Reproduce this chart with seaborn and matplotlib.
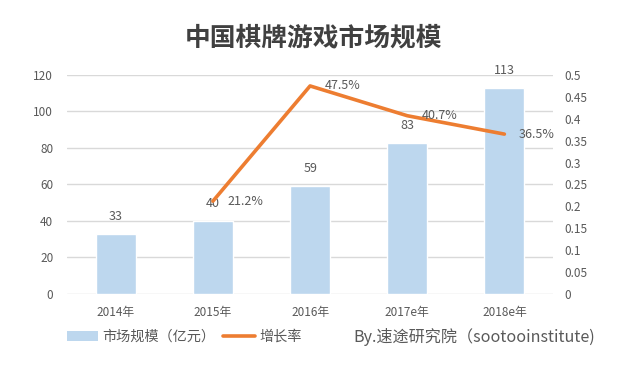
import numpy as np
import pandas as pd
import matplotlib
matplotlib.use('Agg')
import matplotlib.pyplot as plt
import seaborn as sns
from matplotlib.patches import Patch
from matplotlib.lines import Line2D

# 数据
years = ['2014年', '2015年', '2016年', '2017e年', '2018e年']
market = [33, 40, 59, 83, 113]
growth_years = ['2015年', '2016年', '2017e年', '2018e年']
growth = [0.212, 0.475, 0.407, 0.365]

sns.set_style('white')
plt.rcParams['font.family'] = ['Noto Sans CJK SC', 'DejaVu Sans']
plt.rcParams['axes.unicode_minus'] = False

text_color = '#595959'
bar_color = '#BDD7EE'
line_color = '#ED7D31'

fig = plt.figure(figsize=(6.4, 3.74), dpi=100)
ax = fig.add_axes([0.105, 0.214, 0.759, 0.5855])

df = pd.DataFrame({'year': years, 'market': market})
sns.barplot(data=df, x='year', y='market', color=bar_color, width=0.41,
            saturation=1, ax=ax, zorder=2)
ax.set_ylim(0, 120)
ax.set_yticks(range(0, 121, 20))
ax.grid(axis='y', color='#D9D9D9', linewidth=1, zorder=0)
ax.set_axisbelow(True)
ax.set_xlabel('')
ax.set_ylabel('')
ax.tick_params(axis='both', length=0, labelsize=8.5, colors=text_color)
ax.tick_params(axis='x', pad=9)
ax.tick_params(axis='y', pad=10)
for s in ax.spines.values():
    s.set_visible(False)

for i, v in enumerate(market):
    ax.text(i, v + 6, str(v), ha='center', va='bottom', fontsize=9,
            color=text_color)

# 增长率折线
ax2 = ax.twinx()
gdf = pd.DataFrame({'x': [years.index(y) for y in growth_years], 'g': growth})
sns.lineplot(data=gdf, x='x', y='g', color=line_color, linewidth=2.6, ax=ax2)
ax2.set_ylim(0, 0.5)
ax2.set_yticks(np.arange(0, 0.501, 0.05))
ax2.set_yticklabels(['0', '0.05', '0.1', '0.15', '0.2', '0.25', '0.3',
                     '0.35', '0.4', '0.45', '0.5'])
ax2.set_ylabel('')
ax2.tick_params(axis='y', length=0, labelsize=8.5, colors=text_color, pad=8)
for s in ax2.spines.values():
    s.set_visible(False)
ax.set_xlim(-0.5, len(years) - 0.5)

for x, g in zip(gdf['x'], growth):
    ax2.text(x + 0.15, g, f'{g * 100:.1f}%', ha='left', va='center',
             fontsize=9, color=text_color)

fig.text(0.49, 0.898, '中国棋牌游戏市场规模', ha='center', va='center',
         fontsize=18.5, fontweight='bold', color='#404040')

handles = [Patch(facecolor=bar_color, edgecolor='none'),
           Line2D([0], [0], color=line_color, linewidth=2.6)]
fig.legend(handles, ['市场规模（亿元）', '增长率'], loc='center left',
           bbox_to_anchor=(0.104, 0.099), ncol=2, frameon=False, fontsize=10.2,
           handlelength=2.2, handletextpad=0.35, columnspacing=0.55,
           labelcolor=text_color, borderpad=0, borderaxespad=0)
fig.text(0.552, 0.099, 'By.速途研究院（sootooinstitute)', ha='left',
         va='center', fontsize=11.6, color=text_color)

fig.savefig('out.png', dpi=100)
